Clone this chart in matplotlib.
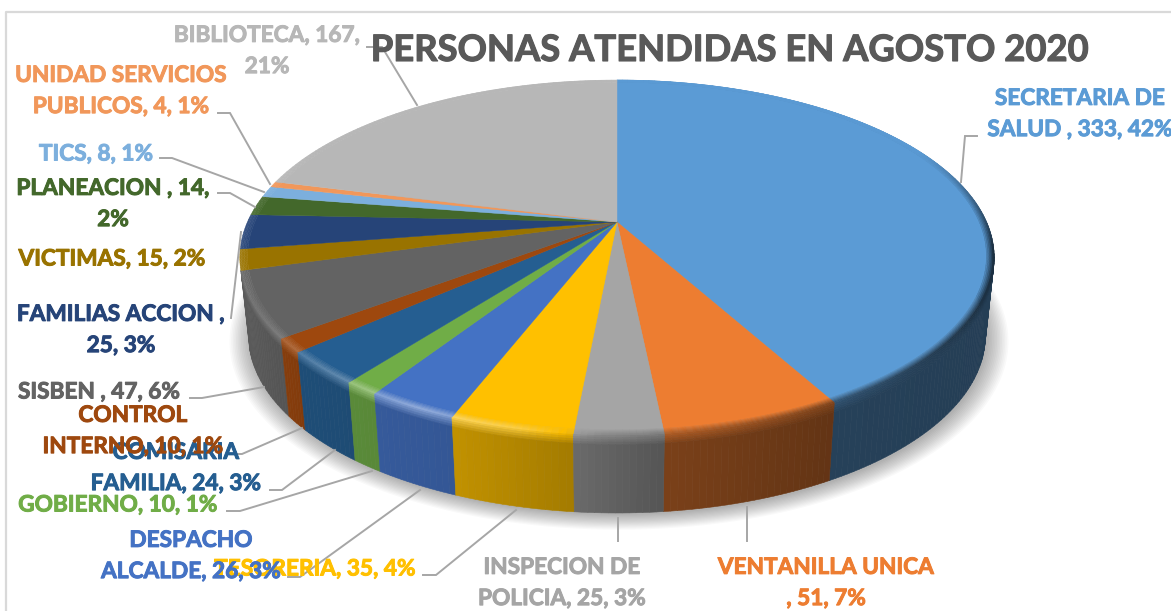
"""
PERSONAS ATENDIDAS EN AGOSTO 2020 - 3D style pie drawn by hand on pixel axes.
"""

import numpy as np
import matplotlib
matplotlib.use("Agg")
import matplotlib.pyplot as plt
import matplotlib.patheffects as pe
from matplotlib.collections import PolyCollection
from matplotlib.colors import to_rgb

# ---------------------------------------------------------------------------
# Data
# ---------------------------------------------------------------------------
categories = ["SECRETARIA DE SALUD", "VENTANILLA UNICA", "INSPECION DE POLICIA", "TESORERIA",
              "DESPACHO ALCALDE", "GOBIERNO", "COMISARIA FAMILIA", "CONTROL INTERNO", "SISBEN",
              "VICTIMAS", "FAMILIAS ACCION", "PLANEACION", "TICS", "UNIDAD SERVICIOS PUBLICOS",
              "BIBLIOTECA"]
values = [333, 51, 25, 35, 26, 10, 24, 10, 47, 15, 25, 14, 8, 4, 167]
label_text = ["SECRETARIA DE\nSALUD , 333, 42%", "VENTANILLA UNICA\n, 51, 7%", "INSPECION DE\nPOLICIA, 25, 3%",
              "TESORERIA, 35, 4%", "DESPACHO\nALCALDE, 26, 3%", "GOBIERNO, 10, 1%", "COMISARIA\nFAMILIA, 24, 3%",
              "CONTROL\nINTERNO, 10, 1%", "SISBEN , 47, 6%", "VICTIMAS, 15, 2%", "FAMILIAS ACCION ,\n25, 3%",
              "PLANEACION , 14,\n2%", "TICS, 8, 1%", "UNIDAD SERVICIOS\nPUBLICOS, 4, 1%", "BIBLIOTECA, 167,\n21%"]
colors = ["#5B9BD5", "#ED7D31", "#A5A5A5", "#FFC000", "#4472C4", "#70AD47", "#255E91", "#9E480E",
          "#636363", "#997300", "#264478", "#43682B", "#7CAFDD", "#F1975A", "#B7B7B7"]
title = "PERSONAS ATENDIDAS EN AGOSTO 2020"

# ---------------------------------------------------------------------------
# Layout (pixels)
# ---------------------------------------------------------------------------
label_x = [1080, 826, 562, 315, 191, 118, 176, 133, 99, 112, 121, 113, 96, 121, 267]
label_y = [114, 583, 583, 569, 556, 505, 468, 431, 392, 259, 330, 204, 154, 91, 51]

leaders = [
    [(977, 136), (965, 136), (961, 182)],
    [(747, 507), (747, 541)],
    [(618, 518), (618, 541)],
    [(516, 510), (436, 575), (423, 575)],
    [(420, 490), (300, 577), (288, 577)],
    [(372, 471), (240, 511), (227, 511)],
    [(335, 450), (282, 490), (270, 490)],
    [(302, 428), (242, 454), (229, 454)],
    [(264, 387), (202, 398), (190, 398)],
    None,
    [(241, 232), (231, 318)],
    [(255, 207), (230, 193), (218, 193)],
    [(264, 192), (172, 158), (160, 158)],
    [(270, 184), (230, 113), (218, 113)],
    [(417, 105), (382, 47), (367, 47)],
]

CX, CY = 617, 222          # pie centre on the top face
A, B, K = 369.6, 170.4, 0.2
A_LOW, CY_LOW = 361.0, 300
LAST_WALL = 8              # wedges after SISBEN are behind the silhouette

FONT = "Lato"
LABEL_SIZE = 16.3
TITLE_SIZE = 26.2

# side darkening by screen x
shade_x = [240, 300, 450, 575, 660, 830, 995]
shade_f = [0.92, 0.82, 0.76, 0.64, 0.52, 0.42, 0.40]
# bevel on the rim by screen x (>1 lightens, <1 darkens)
bevel_x = [240, 420, 520, 600, 680, 830, 995]
bevel_f = [1.05, 1.25, 1.15, 0.85, 0.75, 0.55, 0.30]


def project(theta, rho=1.0, low=False):
    u, v = rho * np.sin(theta), rho * np.cos(theta)
    den = 1 + K * v
    if low:
        return CX + A_LOW * u / den, CY_LOW - B * v / den
    return CX + A * u / den, CY - B * v / den


def scale(rgb, f):
    rgb = np.array(rgb)
    if f <= 1:
        return tuple(rgb * f)
    return tuple(rgb + (1 - rgb) * (f - 1) * 1.6)


def mix(c1, c2, t):
    return tuple(np.array(c1) * (1 - t) + np.array(c2) * t)


fig = plt.figure(figsize=(11.71, 6.11), dpi=100, facecolor="white")
ax = fig.add_axes([0, 0, 1, 1])
ax.set_xlim(0, 1171)
ax.set_ylim(611, 0)
ax.axis("off")

# chart frame (left and top edges only are in view)
ax.plot([6, 6, 1171], [611, 12, 12], color="#D9D9D9", lw=1.6, zorder=1)

# soft shadow under the pie
circle = np.linspace(0, 2 * np.pi, 361)
for i in range(14):
    sx, sy = project(circle, 1 + 0.0042 * i, low=True)
    ax.fill(sx + 2, sy + 2, color="black", alpha=0.022, lw=0, zorder=2)

total = sum(values)
edges = np.cumsum([0] + values) / total * 2 * np.pi

walls = []
top_quads, top_cols = [], []
t_levels = [0, 0.03, 0.06, 0.09, 0.12, 1.0]
r_levels = [0.980, 0.984, 0.988, 0.992, 0.996, 1.0]

for i in range(len(values)):
    base = to_rgb(colors[i])
    n = int(np.degrees(edges[i + 1] - edges[i])) + 2
    angles = np.linspace(edges[i], edges[i + 1], n + 1)

    # flat part of the top face
    xs, ys = project(angles, r_levels[0])
    top_quads.append(np.column_stack([np.r_[CX, xs], np.r_[CY, ys]]))
    top_cols.append(base)

    for a0, a1 in zip(angles[:-1], angles[1:]):
        xm = project((a0 + a1) / 2)[0]
        vm = np.cos((a0 + a1) / 2)
        weight = np.clip((0.45 - vm) / 0.6, 0, 1)
        rim = mix(base, scale(base, np.interp(xm, bevel_x, bevel_f)), weight)
        side = tuple(np.array(base) * np.interp(xm, shade_x, shade_f))

        # rim bevel on the top face
        for j in range(len(r_levels) - 1):
            r0, r1 = r_levels[j], r_levels[j + 1]
            pts = [project(a0, r0), project(a1, r0), project(a1, r1), project(a0, r1)]
            top_quads.append(np.array(pts))
            top_cols.append(mix(base, rim, (j + 1) / (len(r_levels) - 1)))

        if i > LAST_WALL:
            continue

        # wall, from the rim down to the lower ellipse
        x0, y0 = project(a0)
        x1, y1 = project(a1)
        x2, y2 = project(a1, low=True)
        x3, y3 = project(a0, low=True)
        for j in range(len(t_levels) - 1):
            t0, t1 = t_levels[j], t_levels[j + 1]
            pts = [(x0 + (x3 - x0) * t0, y0 + (y3 - y0) * t0),
                   (x1 + (x2 - x1) * t0, y1 + (y2 - y1) * t0),
                   (x1 + (x2 - x1) * t1, y1 + (y2 - y1) * t1),
                   (x0 + (x3 - x0) * t1, y0 + (y3 - y0) * t1)]
            walls.append((vm, np.array(pts), mix(rim, side, (j + 1) / (len(t_levels) - 1))))

# back of the wall first so the front covers it
walls.sort(key=lambda w: -w[0])
side_quads = [w[1] for w in walls]
side_cols = [w[2] for w in walls]

ax.add_collection(PolyCollection(side_quads, facecolors=side_cols, edgecolors=side_cols, linewidths=0.4, zorder=3))
ax.add_collection(PolyCollection(top_quads, facecolors=top_cols, edgecolors=top_cols, linewidths=0.3, zorder=4))

# leader lines
for pts in leaders:
    if pts is None:
        continue
    ax.plot([p[0] for p in pts], [p[1] for p in pts], color="#A6A6A6", lw=1.4, zorder=5, solid_joinstyle="miter")

# data labels, in series order so later ones sit on top
for i, txt in enumerate(label_text):
    t = ax.text(label_x[i], label_y[i], txt, color=colors[i], fontsize=LABEL_SIZE, fontweight="bold", family=FONT,
                ha="center", va="center", multialignment="center", linespacing=1.6, zorder=6 + i * 0.01)
    t.set_path_effects([pe.withStroke(linewidth=0.7, foreground=colors[i])])

t = ax.text(729, 50.5, title, color="#595959", fontsize=TITLE_SIZE, fontweight="bold", family=FONT,
            ha="center", va="center", zorder=7)
t.set_path_effects([pe.withStroke(linewidth=0.8, foreground="#595959")])

fig.savefig("out.png", dpi=100)
plt.close(fig)
